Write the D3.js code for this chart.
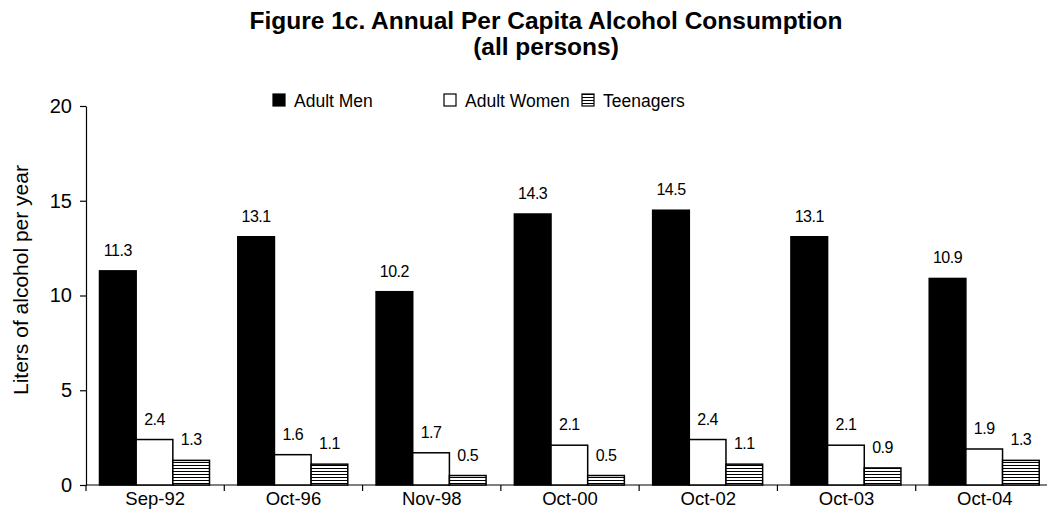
<!DOCTYPE html>
<html>
<head>
<meta charset="utf-8">
<script src="https://cdn.jsdelivr.net/npm/d3@7"></script>
<style>
  body { margin: 0; background: #fff; }
  svg { display: block; font-family: "Liberation Sans", Arial, sans-serif; }
</style>
</head>
<body>
<div id="chart"></div>
<script>
// chart data
var categories = ["Sep-92", "Oct-96", "Nov-98", "Oct-00", "Oct-02", "Oct-03", "Oct-04"];
var seriesNames = ["Adult Men", "Adult Women", "Teenagers"];
var adultMen = [11.3, 13.1, 10.2, 14.3, 14.5, 13.1, 10.9];
var adultWomen = [2.4, 1.6, 1.7, 2.1, 2.4, 2.1, 1.9];
var teenagers = [1.3, 1.1, 0.5, 0.5, 1.1, 0.9, 1.3];
var yTicks = [0, 5, 10, 15, 20];

var seriesValues = [adultMen, adultWomen, teenagers];

var width = 1047, height = 527;

var svg = d3.select("#chart")
    .append("svg")
    .attr("width", width)
    .attr("height", height);

// hatch pattern for teenagers
var defs = svg.append("defs");
var pat = defs.append("pattern")
    .attr("id", "hatch")
    .attr("patternUnits", "userSpaceOnUse")
    .attr("width", 6)
    .attr("height", 3);
pat.append("rect").attr("width", 6).attr("height", 3).attr("fill", "#fff");
pat.append("line")
    .attr("x1", 0).attr("x2", 6)
    .attr("y1", 0.5).attr("y2", 0.5)
    .attr("stroke", "#000")
    .attr("stroke-width", 1);

var fills = ["#000", "#fff", "url(#hatch)"];

// scales
var x = d3.scaleBand()
    .domain(categories)
    .range([86, 1054])
    .padding(0);

var x1 = d3.scaleBand()
    .domain(seriesNames)
    .range([13.5, 123.5])
    .padding(0);

var y = d3.scaleLinear()
    .domain([0, 20])
    .range([485, 106]);

// title
var title = svg.append("text")
    .attr("text-anchor", "middle")
    .attr("font-weight", "bold")
    .attr("font-size", 24.5)
    .attr("fill", "#000");
title.append("tspan").attr("x", 546).attr("y", 29)
    .text("Figure 1c. Annual Per Capita Alcohol Consumption");
title.append("tspan").attr("x", 546).attr("y", 55)
    .text("(all persons)");

// Y axis
var yAxis = svg.append("g")
    .attr("transform", "translate(86,0)")
    .call(d3.axisLeft(y).tickValues(yTicks).tickSize(6).tickPadding(8).tickSizeOuter(0));
yAxis.select(".domain").attr("stroke", "#000").attr("stroke-width", 1.2);
yAxis.selectAll(".tick line").attr("stroke", "#000").attr("stroke-width", 1.2);
yAxis.selectAll(".tick text")
    .attr("font-size", 20)
    .attr("font-family", "Liberation Sans, Arial, sans-serif")
    .attr("fill", "#000");

svg.append("text")
    .attr("transform", "translate(28,280) rotate(-90)")
    .attr("text-anchor", "middle")
    .attr("font-size", 21)
    .attr("fill", "#000")
    .text("Liters of alcohol per year");

// X axis
var xg = svg.append("g");
xg.append("line")
    .attr("x1", 86).attr("x2", width)
    .attr("y1", y(0)).attr("y2", y(0))
    .attr("stroke", "#000").attr("stroke-width", 1.2);
xg.selectAll(".xtick")
    .data(categories)
    .enter()
    .append("line")
    .attr("x1", function (d) { return x(d); })
    .attr("x2", function (d) { return x(d); })
    .attr("y1", y(0))
    .attr("y2", y(0) + 6)
    .attr("stroke", "#000").attr("stroke-width", 1.2);
xg.selectAll(".xlabel")
    .data(categories)
    .enter()
    .append("text")
    .attr("x", function (d) { return x(d) + x.bandwidth() / 2; })
    .attr("y", 505)
    .attr("text-anchor", "middle")
    .attr("font-size", 18.5)
    .attr("fill", "#000")
    .text(function (d) { return d; });

// bars
var groups = svg.append("g")
    .selectAll("g")
    .data(categories)
    .enter()
    .append("g")
    .attr("transform", function (d) { return "translate(" + x(d) + ",0)"; });

groups.selectAll("rect")
    .data(function (d, i) {
        return seriesNames.map(function (s, k) { return { s: s, k: k, v: seriesValues[k][i] }; });
    })
    .enter()
    .append("rect")
    .attr("x", function (d) { return x1(d.s); })
    .attr("y", function (d) { return y(d.v); })
    .attr("width", x1.bandwidth())
    .attr("height", function (d) { return y(0) - y(d.v); })
    .attr("fill", function (d) { return fills[d.k]; })
    .attr("stroke", "#000")
    .attr("stroke-width", 1.5);

groups.selectAll("text")
    .data(function (d, i) {
        return seriesNames.map(function (s, k) { return { s: s, k: k, v: seriesValues[k][i] }; });
    })
    .enter()
    .append("text")
    .attr("x", function (d) { return x1(d.s) + x1.bandwidth() / 2; })
    .attr("y", function (d) { return y(d.v) - 15; })
    .attr("text-anchor", "middle")
    .attr("font-size", 16)
    .attr("letter-spacing", -0.5)
    .attr("fill", "#000")
    .text(function (d) { return d.v.toFixed(1); });

// legend
var legendX = [273, 444, 582];
var legend = svg.append("g")
    .selectAll("g")
    .data(seriesNames)
    .enter()
    .append("g")
    .attr("transform", function (d, i) { return "translate(" + legendX[i] + ",94)"; });
legend.append("rect")
    .attr("width", 12)
    .attr("height", 12)
    .attr("fill", function (d, i) { return fills[i]; })
    .attr("stroke", "#000")
    .attr("stroke-width", 1.2);
legend.append("text")
    .attr("x", 21)
    .attr("y", 13)
    .attr("font-size", 17.5)
    .attr("fill", "#000")
    .text(function (d) { return d; });
</script>
</body>
</html>
